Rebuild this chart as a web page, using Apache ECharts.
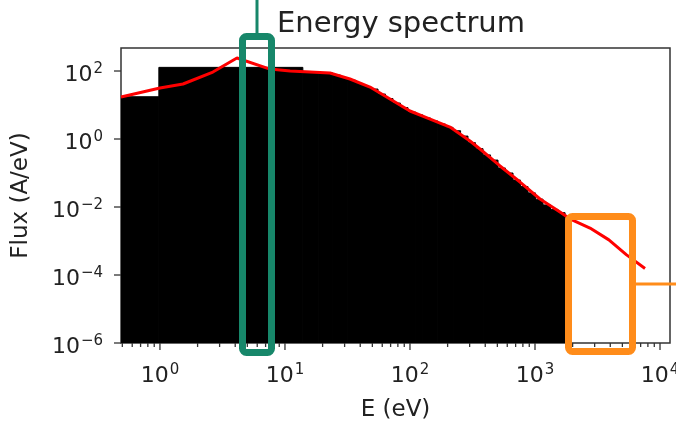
<!DOCTYPE html>
<html>
<head>
<meta charset="utf-8">
<script src="https://cdn.jsdelivr.net/npm/echarts@6/dist/echarts.min.js"></script>
<style>
  html, body { margin: 0; padding: 0; background: #fff; }
  #chart { width: 676px; height: 428px; }
</style>
</head>
<body>
<div id="chart"></div>
<script>
// histogram bin edges (eV) and flux per bin (A/eV)
const binEdges = [0.488, 0.98, 13.9, 16.0, 18.4, 21.1, 24.2, 27.8, 31.9, 36.6, 42.1, 48.3, 55.5, 63.7,
  73.1, 83.9, 96.4, 111, 127, 146, 167, 192, 221, 254, 291, 334, 384, 441, 506, 581, 667, 766,
  879, 1009, 1159, 1330, 1528, 1740];
const binFlux = [17.5, 128, 97, 93, 90, 87, 76, 64, 54, 43, 35, 29.5, 21, 15.5, 11.4, 8.4, 6.2, 5.1,
  4.15, 3.39, 2.76, 2.2, 1.75, 1.22, 0.78, 0.52, 0.34, 0.24, 0.14, 0.1, 0.062, 0.04, 0.026, 0.017,
  0.0115, 0.0085, 0.0068];

// red reference curve
const curveE = [0.488, 1.0, 1.53, 2.65, 4.13, 7.59, 11.0, 22.9, 33.1, 47.9, 69.2, 100, 145, 209,
  302, 363, 525, 759, 1096, 1585, 1900, 2754, 3900, 5400, 7586];
const curveFlux = [17.2, 31.6, 41.5, 93, 241, 114, 100, 87.4, 58.2, 33.8, 15.0, 6.66, 3.87, 2.25,
  0.873, 0.508, 0.161, 0.0543, 0.0172, 0.00713, 0.0045, 0.00241, 0.00108, 0.00039, 0.000155];

const xMin = 0.488, xMax = 12020;
const yMin = 1e-6, yMax = 475;
const xMajor = [1, 10, 100, 1000, 10000];
const yMajor = [1e-6, 1e-4, 1e-2, 1, 100];

const FONT = 'DejaVu Sans';
const INK = '#222';

const histData = binFlux.map((v, i) => [binEdges[i], binEdges[i + 1], v]);
const curveData = curveE.map((e, i) => [e, curveFlux[i]]);

const supMap = { '-': '\u2212' };
const powLabel = (v, keepOdd) => {
  const p = Math.round(Math.log10(v));
  if (Math.abs(Math.log10(v) - p) > 1e-3) return '';
  if (!keepOdd && p % 2 !== 0) return '';
  const exp = String(p).split('').map(c => supMap[c] || c).join('');
  return '{b|10}{s|' + exp + '}';
};

const labelRich = {
  b: { fontFamily: FONT, fontSize: 22, color: INK, verticalAlign: 'bottom', lineHeight: 30 },
  s: { fontFamily: FONT, fontSize: 15, color: INK, verticalAlign: 'bottom', lineHeight: 30, padding: [0, 0, 9, 1] }
};

const chart = echarts.init(document.getElementById('chart'), null, { renderer: 'canvas' });

chart.setOption({
  animation: false,
  backgroundColor: '#fff',
  title: {
    text: 'Energy spectrum',
    left: 396,
    textAlign: 'center',
    top: 5,
    textStyle: { fontFamily: FONT, fontSize: 29, fontWeight: 'normal', color: INK }
  },
  grid: {
    left: 121, top: 48, width: 549, height: 295,
    outerBoundsMode: 'none',
    show: true, borderColor: '#333', borderWidth: 1.5, backgroundColor: '#fff'
  },
  xAxis: {
    type: 'log', logBase: 10, min: xMin, max: xMax,
    name: 'E (eV)', nameLocation: 'middle', nameGap: 56,
    nameTextStyle: { fontFamily: FONT, fontSize: 23, color: INK },
    axisLine: { show: false }, axisTick: { show: false }, splitLine: { show: false },
    axisLabel: { margin: 14, formatter: v => powLabel(v, true), rich: labelRich, showMinLabel: false, showMaxLabel: false }
  },
  yAxis: {
    type: 'log', logBase: 10, min: yMin, max: yMax,
    name: 'Flux (A/eV)', nameLocation: 'middle', nameGap: 88,
    nameTextStyle: { fontFamily: FONT, fontSize: 23, color: INK },
    axisLine: { show: false }, axisTick: { show: false }, splitLine: { show: false },
    axisLabel: { margin: 18, formatter: v => powLabel(v, false), rich: labelRich, showMaxLabel: false }
  },
  series: [
    {
      type: 'custom',
      data: histData,
      encode: { x: [0, 1], y: 2 },
      clip: true,
      renderItem: (params, api) => {
        const top = api.coord([api.value(0), api.value(2)]);
        const bot = api.coord([api.value(1), yMin]);
        return {
          type: 'rect',
          shape: { x: top[0], y: top[1], width: bot[0] - top[0], height: bot[1] - top[1] },
          style: { fill: '#000', stroke: '#000', lineWidth: 1 }
        };
      },
      z: 2
    },
    {
      type: 'line',
      data: curveData,
      showSymbol: false,
      symbol: 'none',
      lineStyle: { color: '#ff0000', width: 3 },
      z: 3
    }
  ]
});

// matplotlib-like ticks drawn at the axis positions
const gx0 = 121, gy0 = 343;
const graphics = [];
const tick = (x1, y1, x2, y2) => graphics.push({
  type: 'line', z: 50, silent: true,
  shape: { x1, y1, x2, y2 }, style: { stroke: '#333', lineWidth: 1.3 }
});
xMajor.forEach(v => {
  const px = chart.convertToPixel({ xAxisIndex: 0 }, v);
  tick(px, gy0, px, gy0 + 7);
});
for (let d = 0.1; d <= 1000; d *= 10) {
  for (let k = 2; k <= 9; k++) {
    const v = k * d;
    if (v < xMin || v > xMax) continue;
    const px = chart.convertToPixel({ xAxisIndex: 0 }, v);
    tick(px, gy0, px, gy0 + 4);
  }
}
yMajor.forEach(v => {
  const py = chart.convertToPixel({ yAxisIndex: 0 }, v);
  tick(gx0 - 7, py, gx0, py);
});

// highlight boxes
graphics.push(
  { type: 'line', z: 60, shape: { x1: 257, y1: 0, x2: 257, y2: 36 }, style: { stroke: '#17876a', lineWidth: 3 } },
  { type: 'rect', z: 60, shape: { x: 242.5, y: 36.5, width: 29, height: 316, r: 4 }, style: { fill: null, stroke: '#17876a', lineWidth: 7 } },
  { type: 'line', z: 60, shape: { x1: 636, y1: 284, x2: 676, y2: 284 }, style: { stroke: '#ff8c1a', lineWidth: 3 } },
  { type: 'rect', z: 60, shape: { x: 568.5, y: 216.5, width: 64, height: 135, r: 4 }, style: { fill: null, stroke: '#ff8c1a', lineWidth: 7 } }
);
chart.setOption({ graphic: graphics });
</script>
</body>
</html>
